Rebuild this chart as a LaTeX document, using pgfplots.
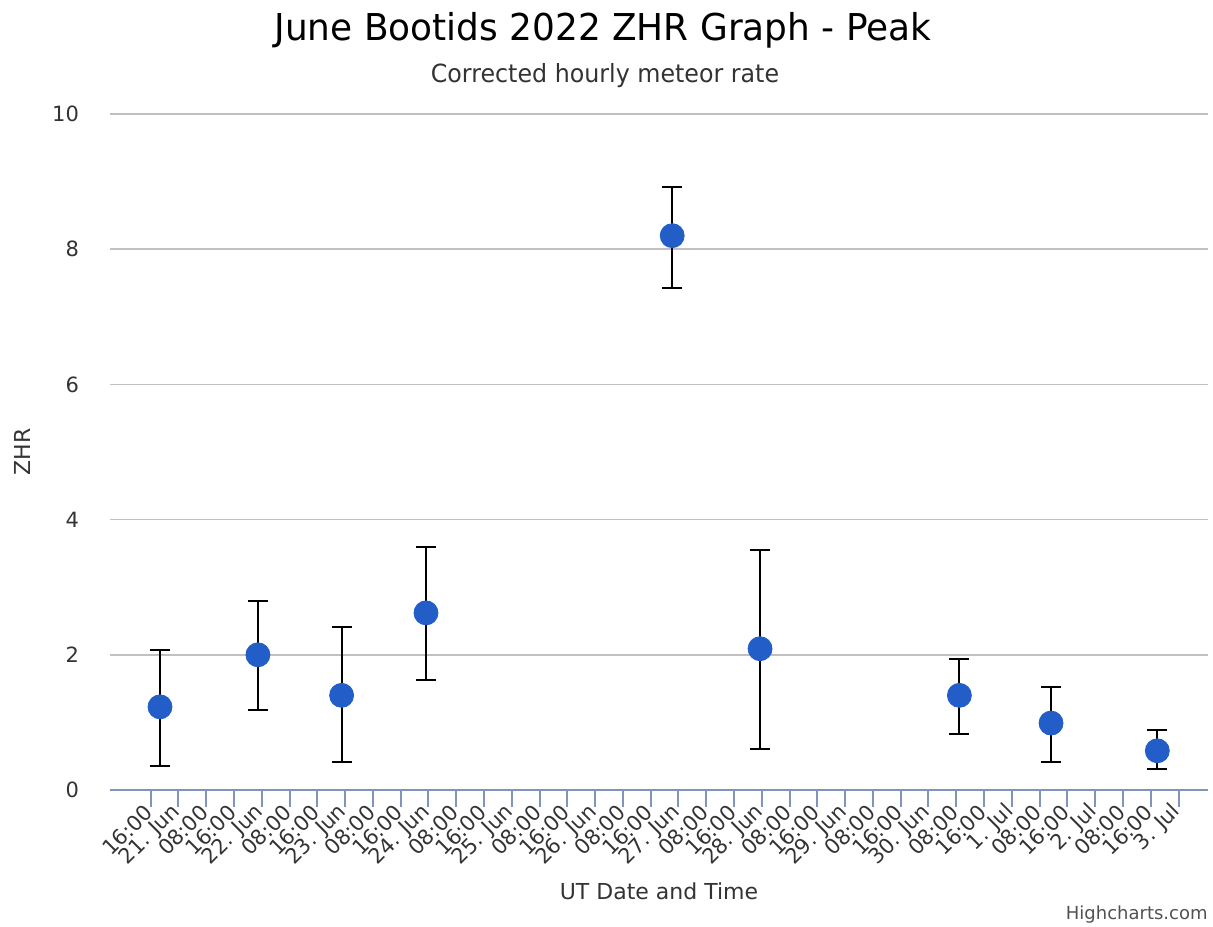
\documentclass[border=0pt]{standalone}
\usepackage{pgfplots}
\pgfplotsset{compat=1.18}
\usepackage{fontspec}
\setmainfont{DejaVu Sans}
\newfontfamily\condfont[FakeStretch=0.97]{DejaVu Sans}
\newfontfamily\subfont[FakeStretch=0.95]{DejaVu Sans}
\definecolor{ptblue}{RGB}{35,94,200}
\definecolor{gridgray}{RGB}{192,192,192}
\definecolor{axisblue}{RGB}{128,148,188}
\definecolor{txt}{RGB}{51,51,51}
\pgfplotstableread{
x y ep em
-5.3 1.23 0.84 0.87
22.9 2.00 0.80 0.81
47.0 1.40 1.01 0.99
71.3 2.62 0.98 0.99
142.2 8.20 0.72 0.77
167.5 2.09 1.46 1.49
224.9 1.40 0.54 0.57
251.3 0.99 0.53 0.57
281.9 0.58 0.31 0.27
}\zhr
\begin{document}
\begin{tikzpicture}
\begin{axis}[
  at={(0,0)}, anchor=south west,
  scale only axis, width=549pt, height=338pt,
  xmin=-19.7, xmax=296.5, ymin=0, ymax=10,
  axis x line*=bottom, axis y line*=left,
  x axis line style={draw=axisblue, line width=1pt, -},
  y axis line style={draw=none},
  ytick={0,2,...,10},
  ytick style={draw=none},
  ymajorgrids, grid style={gridgray, line width=0.8pt},
  xtick={-8,0,...,288},
  xticklabels={16:00,21. Jun,08:00,16:00,22. Jun,08:00,16:00,23. Jun,08:00,16:00,24. Jun,08:00,16:00,25. Jun,08:00,16:00,26. Jun,08:00,16:00,27. Jun,08:00,16:00,28. Jun,08:00,16:00,29. Jun,08:00,16:00,30. Jun,08:00,16:00,1. Jul,08:00,16:00,2. Jul,08:00,16:00,3. Jul},
  xtick align=outside,
  xtick style={draw=axisblue, line width=1pt},
  major tick length=8.5pt,
  /pgf/number format/assume math mode=true,
  yticklabel style={font=\fontsize{10.5}{12}\selectfont, text=txt, anchor=east, xshift=-12pt},
  xticklabel style={font=\fontsize{10.5}{12}\selectfont, text=txt, rotate=45, anchor=east, inner sep=1pt},
  clip=false,
]
\addplot[only marks, mark=*, mark size=6pt, mark options={fill=ptblue, draw=ptblue},
  error bars/.cd, y dir=both, y explicit,
  error bar style={black, line width=1pt},
  error mark options={black, line width=1pt, mark size=5pt, rotate=90}]
  table[x=x, y=y, y error plus=ep, y error minus=em] {\zhr};
\end{axis}
\node[font=\condfont\fontsize{18.5}{22}\selectfont, text=black] at (246.5pt,380pt) {June Bootids 2022 ZHR Graph - Peak};
\node[font=\subfont\fontsize{12.5}{14}\selectfont, text=txt] at (247.5pt,357pt) {Corrected hourly meteor rate};
\node[font=\fontsize{11}{13}\selectfont, text=txt, rotate=90] at (-44pt,169pt) {ZHR};
\node[font=\fontsize{11}{13}\selectfont, text=txt] at (274.5pt,-50.5pt) {UT Date and Time};
\node[font=\fontsize{9}{10}\selectfont, text=txt!85, anchor=east, inner sep=0pt] at (549pt,-62.5pt) {Highcharts.com};
\pgfresetboundingbox
\path[use as bounding box] (-55pt,-68pt) rectangle (551.5pt,395pt);
\end{tikzpicture}
\end{document}
